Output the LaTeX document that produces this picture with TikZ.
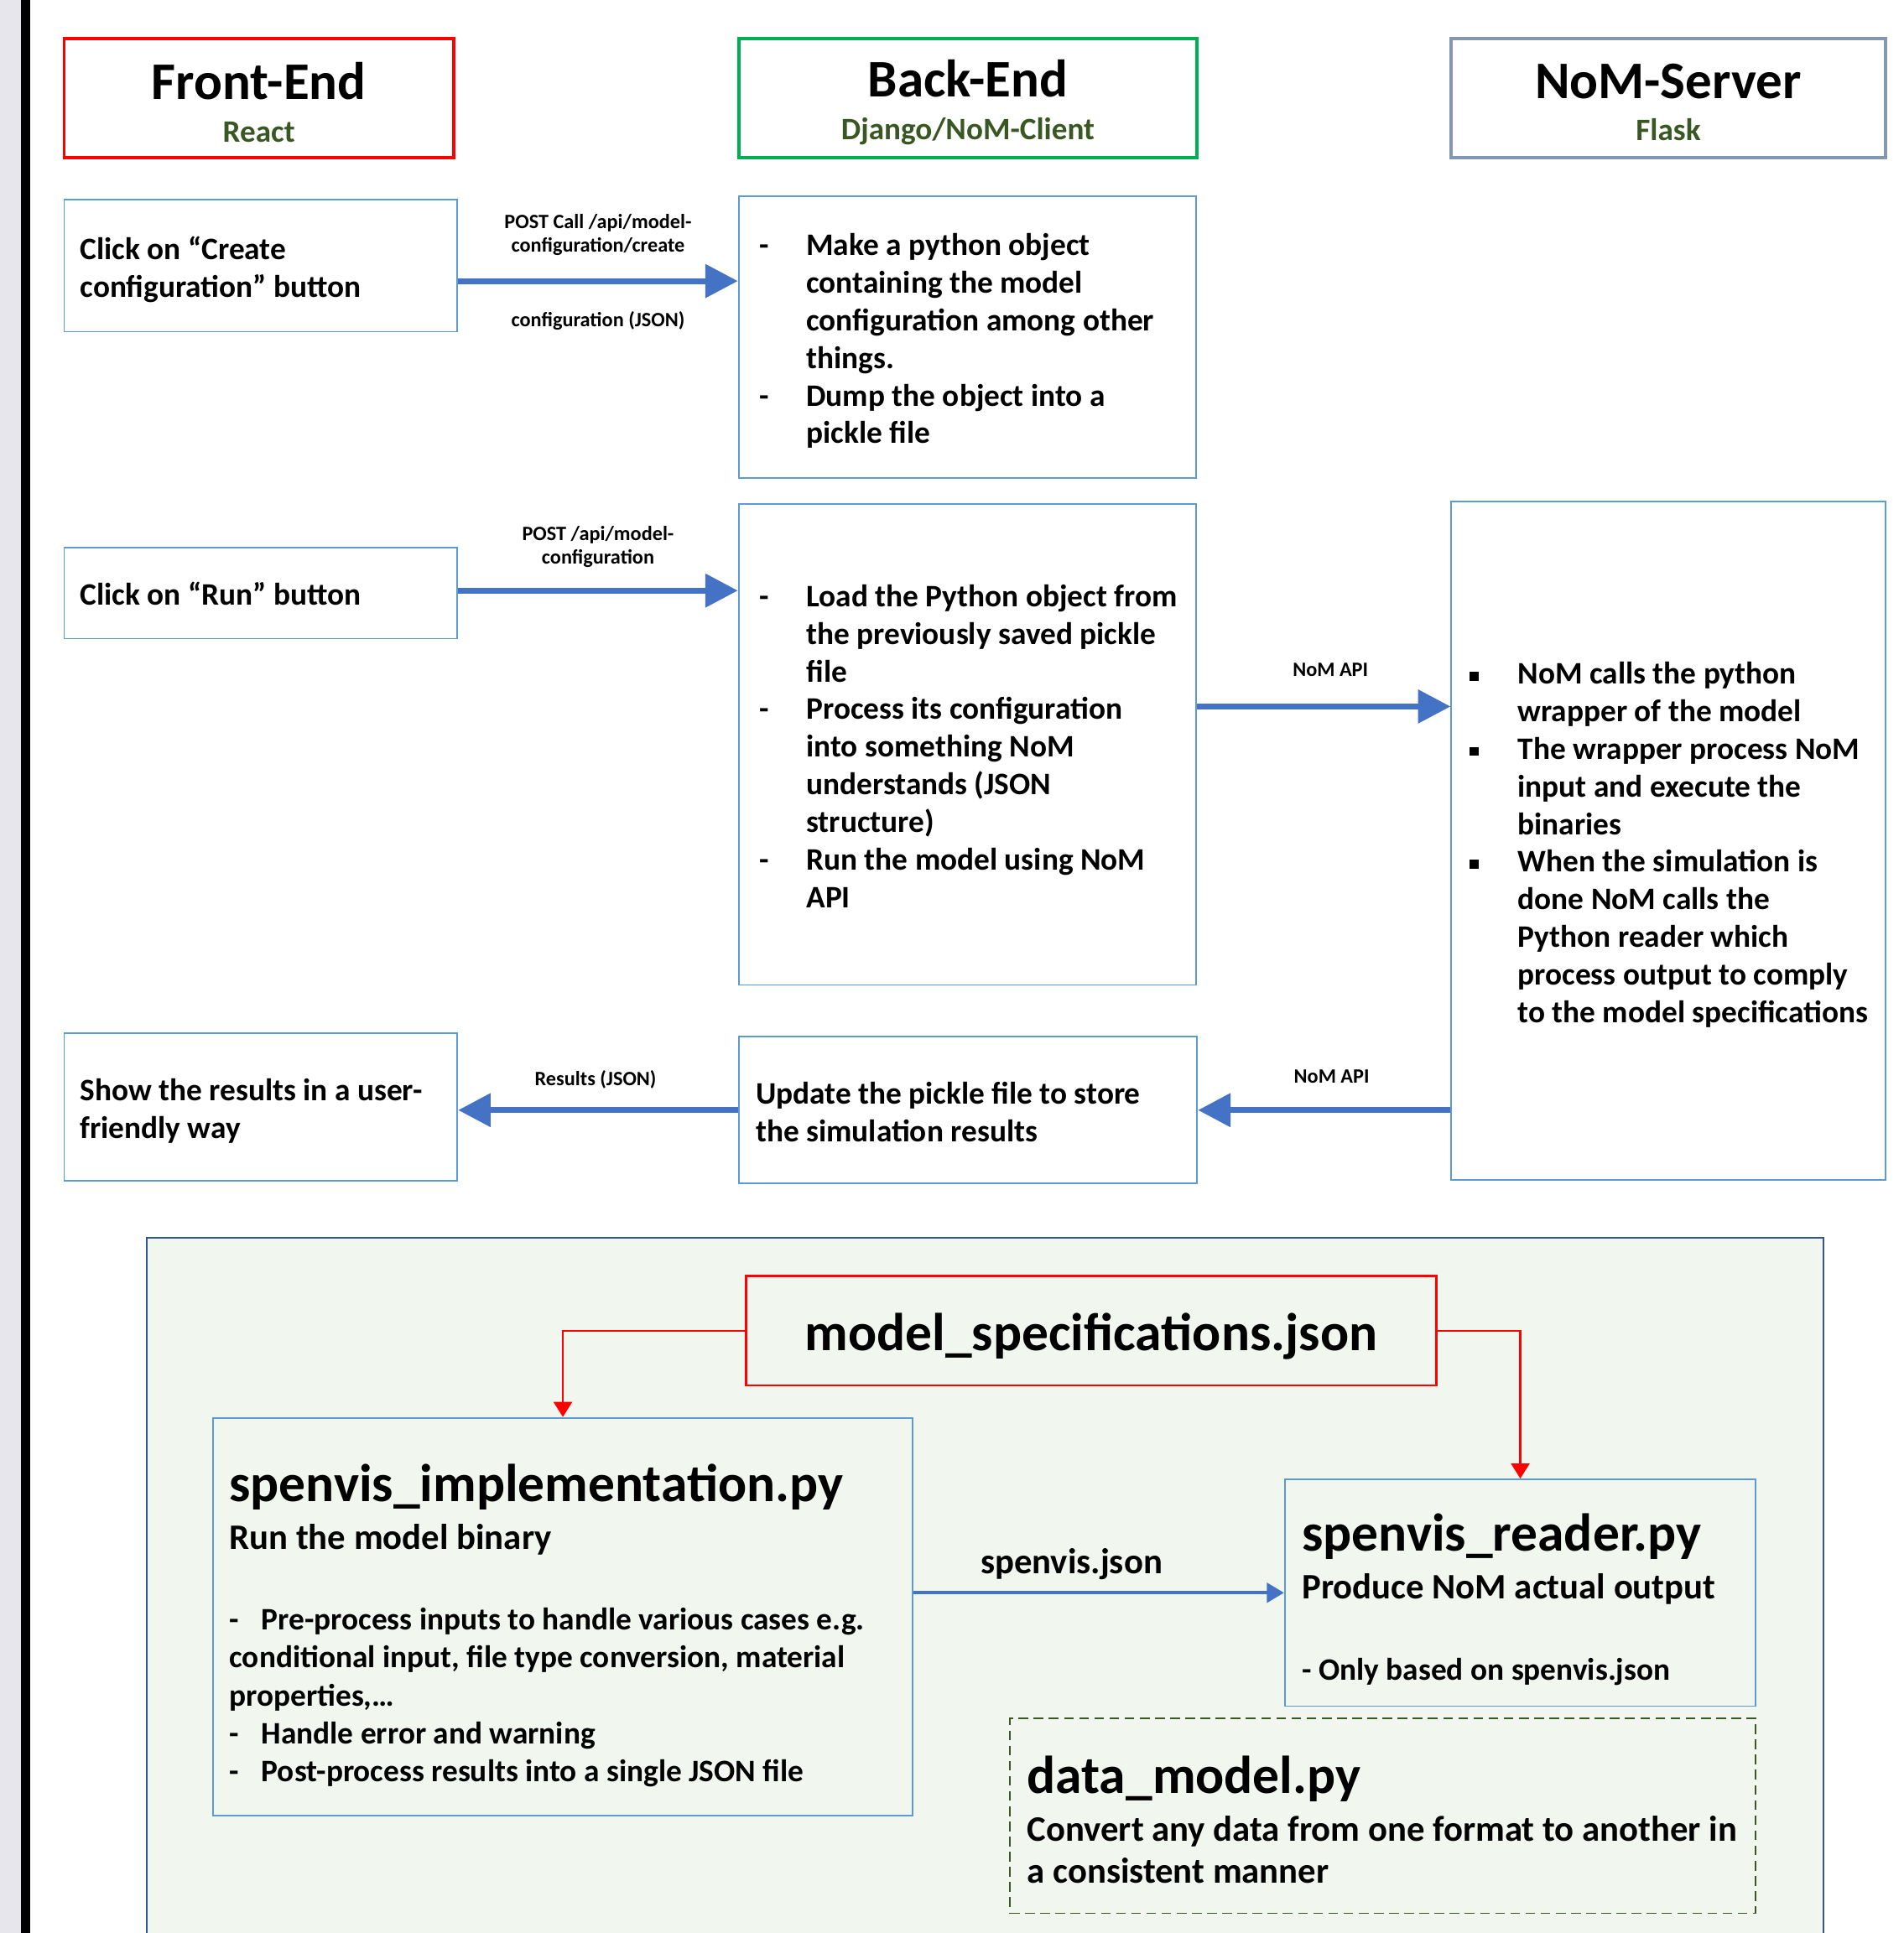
\documentclass[tikz,border=0pt]{standalone}
\usepackage{fontspec}
\setmainfont{Carlito}
\usetikzlibrary{arrows.meta}

\definecolor{boxblue}{HTML}{5B9BD5}
\definecolor{flowblue}{HTML}{4472C4}
\definecolor{feRed}{HTML}{FF0000}
\definecolor{beGreen}{HTML}{00B050}
\definecolor{nsSlate}{HTML}{8497B0}
\definecolor{subgreen}{HTML}{385723}
\definecolor{panelfill}{HTML}{F1F7EE}
\definecolor{paneledge}{HTML}{2F5597}
\definecolor{stripgrey}{HTML}{E6E6EC}

\newcommand{\hdfont}{\fontsize{24.4}{29}\selectfont\bfseries}
\newcommand{\hsubfont}{\fontsize{14.4}{19.4}\selectfont\bfseries}
\newcommand{\boxfont}{\fontsize{14.45}{17.35}\selectfont\bfseries}
\newcommand{\lblfont}{\fontsize{9.4}{10.8}\selectfont\bfseries}
\newcommand{\bigfont}{\fontsize{24.6}{29}\selectfont\bfseries}
\newcommand{\medfont}{\fontsize{16.55}{19.3}\selectfont\bfseries}
\newcommand{\listfont}{\fontsize{14.45}{17.5}\selectfont\bfseries}
\newcommand{\natsp}{\spaceskip=0pt\xspaceskip=0pt\relax}

\newcommand{\boxlines}[2][4.6pt]{\noindent\raisebox{0pt}[\dimexpr\height+#1\relax][\depth]{\begin{tabular}{@{}l@{}}#2\end{tabular}}}
\newcommand{\hdtitle}[1]{{\hdfont\raisebox{0pt}[\dimexpr\height+4pt\relax]{#1}\par}}
\newcommand{\dashit}{\makebox[21.6pt][l]{-}}
\newcommand{\skipit}{\hspace*{21.6pt}}
\newcommand{\sqit}{\makebox[22.2pt][l]{\rule[1.6pt]{4pt}{4pt}}}
\newcommand{\sqskip}{\hspace*{22.2pt}}
\newcommand{\listdash}{\makebox[14.8pt][l]{-}}

\tikzset{
  hdr/.style={draw, line width=1.5pt, minimum height=19.4mm, inner xsep=0pt, align=center, execute at begin node=\natsp},
  tbox/.style={draw=boxblue, line width=0.7pt, inner ysep=0pt, align=left, font=\boxfont, execute at begin node=\natsp},
  lbl/.style={font=\lblfont, align=center, inner sep=0pt, execute at begin node=\natsp},
  flow/.style={draw=flowblue, line width=2.8pt, -{Triangle[length=15pt,width=15pt]}},
  specflow/.style={draw=feRed, line width=1pt, -{Triangle[length=7pt,width=8.5pt]}},
  jsonflow/.style={draw=flowblue, line width=1.7pt, -{Triangle[length=8pt,width=9pt]}}
}

\begin{document}
\begin{tikzpicture}[x=0.02cm, y=-0.02cm]
  \useasboundingbox (0,0) rectangle (1544,1568);
  \clip (0,0) rectangle (1544,1568);
  \fill[stripgrey] (0,0) rectangle (17,1568);
  \fill[black] (17,0) rectangle (24.5,1568);% slide edge

  % column headers
  \node[hdr, draw=feRed, text width=63.2mm] (fe) at (210,79.5)
    {\hdtitle{Front-End}{\hsubfont\color{subgreen}React\par}};
  \node[hdr, draw=beGreen, text width=74.4mm] (be) at (785,79.5)
    {\hdtitle{Back-End}{\hsubfont\color{subgreen}Django/NoM-Client\par}};
  \node[hdr, draw=nsSlate, text width=70.4mm] (ns) at (1353,79.5)
    {\hdtitle{NoM-Server}{\hsubfont\color{subgreen}Flask\par}};

  % create configuration
  \node[tbox, text width=58.6mm, inner xsep=2.6mm, minimum height=21.4mm] (cfgbtn) at (211.5,215.5)
    {\boxlines{Click on “Create\\configuration” button}};
  \node[tbox, text width=67.4mm, inner xsep=3.4mm, minimum height=45.8mm] (cfgobj) at (784.5,273.5)
    {\boxlines{\dashit Make a python object\\ \skipit containing the model\\ \skipit configuration among other\\ \skipit things.\\ \dashit Dump the object into a\\ \skipit pickle file}};

  % run
  \node[tbox, text width=58.6mm, inner xsep=2.6mm, minimum height=14.8mm] (runbtn) at (211.5,481)
    {\boxlines{Click on “Run” button}};
  \node[tbox, text width=67.4mm, inner xsep=3.4mm, minimum height=78mm] (runobj) at (784.5,604)
    {\boxlines{\dashit Load the Python object from\\ \skipit the previously saved pickle\\ \skipit file\\ \dashit Process its configuration\\ \skipit into something NoM\\ \skipit understands (JSON\\ \skipit structure)\\ \dashit Run the model using NoM\\ \skipit API}};
  \node[tbox, text width=64.4mm, inner xsep=3mm, minimum height=110mm] (nomsrv) at (1353,682)
    {\boxlines{\sqit NoM calls the python\\ \sqskip wrapper of the model\\ \sqit The wrapper process NoM\\ \sqskip input and execute the\\ \sqskip binaries\\ \sqit When the simulation is\\ \sqskip done NoM calls the\\ \sqskip Python reader which\\ \sqskip process output to comply\\ \sqskip to the model specifications}};

  % results
  \node[tbox, text width=58.6mm, inner xsep=2.6mm, minimum height=24mm] (results) at (211.5,898)
    {\boxlines{Show the results in a user-\\friendly way}};
  \node[tbox, text width=68.8mm, inner xsep=2.8mm, minimum height=23.8mm] (update) at (785,900.5)
    {\boxlines{Update the pickle file to store\\the simulation results}};

  \draw[flow] ([yshift=-7.1pt]cfgbtn.east) -- ([yshift=-7.1pt]cfgbtn.east -| cfgobj.west);
  \draw[flow] ([yshift=1.1pt]runbtn.east) -- ([yshift=1.1pt]runbtn.east -| runobj.west);
  \draw[flow] ([yshift=17.6pt]runobj.east) -- ([yshift=17.6pt]runobj.east -| nomsrv.west);
  \draw[flow] (update.east -| nomsrv.west) -- (update.east);
  \draw[flow] (update.west) -- (update.west -| results.east);

  \node[lbl] (cfgcall) at (485,190.5) {POST Call /api/model-\\configuration/create};
  \node[lbl] (cfgjson) at (485,260.5) {configuration (JSON)};
  \node[lbl] (runcall) at (485,443.5) {POST /api/model-\\configuration};
  \node[lbl] (apiout) at (1079,543) {NoM API};
  \node[lbl] (apiin) at (1080,873) {NoM API};
  \node[lbl] (resjson) at (483,876) {Results (JSON)};

  % NoM wrapper files
  \filldraw[fill=panelfill, draw=paneledge, line width=1pt] (119,1004) rectangle (1479,1600);
  \node[draw=feRed, line width=0.9pt, minimum width=112mm, minimum height=17.8mm, font=\bigfont,
        text height=20pt, text depth=1.9pt] (spec) at (885,1079.5)
    {model\_specifications.json};
  \node[tbox, text width=108.2mm, inner xsep=2.6mm, minimum height=64.6mm, font=\listfont] (impl) at (456.5,1311.5)
    {\boxlines[11pt]{{\bigfont spenvis\_implementation.py}\\[4.5pt]
      {\medfont Run the model binary}\\[19.7pt]
      \listdash Pre-process inputs to handle various cases e.g.\\
      conditional input, file type conversion, material\\
      properties,…\\
      \listdash Handle error and warning\\
      \listdash Post-process results into a single JSON file}};
  \node[tbox, text width=70.8mm, inner xsep=2.8mm, minimum height=36.8mm, font=\listfont] (reader) at (1233,1292)
    {\boxlines[9.1pt]{{\bigfont spenvis\_reader.py}\\[4.7pt]
      {\medfont Produce NoM actual output}\\[20.1pt]
      - Only based on spenvis.json}};
  \node[tbox, draw=subgreen, dash pattern=on 4.5pt off 2.5pt, text width=115.4mm, inner xsep=2.8mm, minimum height=31.6mm, font=\medfont] (dmodel) at (1121.5,1473)
    {\boxlines[9.1pt]{{\bigfont data\_model.py}\\[3.1pt]
      Convert any data from one format to another in\\
      a consistent manner}};

  \draw[specflow] (spec.west) -| (impl.north);
  \draw[specflow] (spec.east) -| (reader.north);
  \draw[jsonflow] (reader.west -| impl.east) -- (reader.west);
  \node[font=\medfont, inner sep=0pt] (sjson) at (869,1269) {spenvis.json};
\end{tikzpicture}
\end{document}
